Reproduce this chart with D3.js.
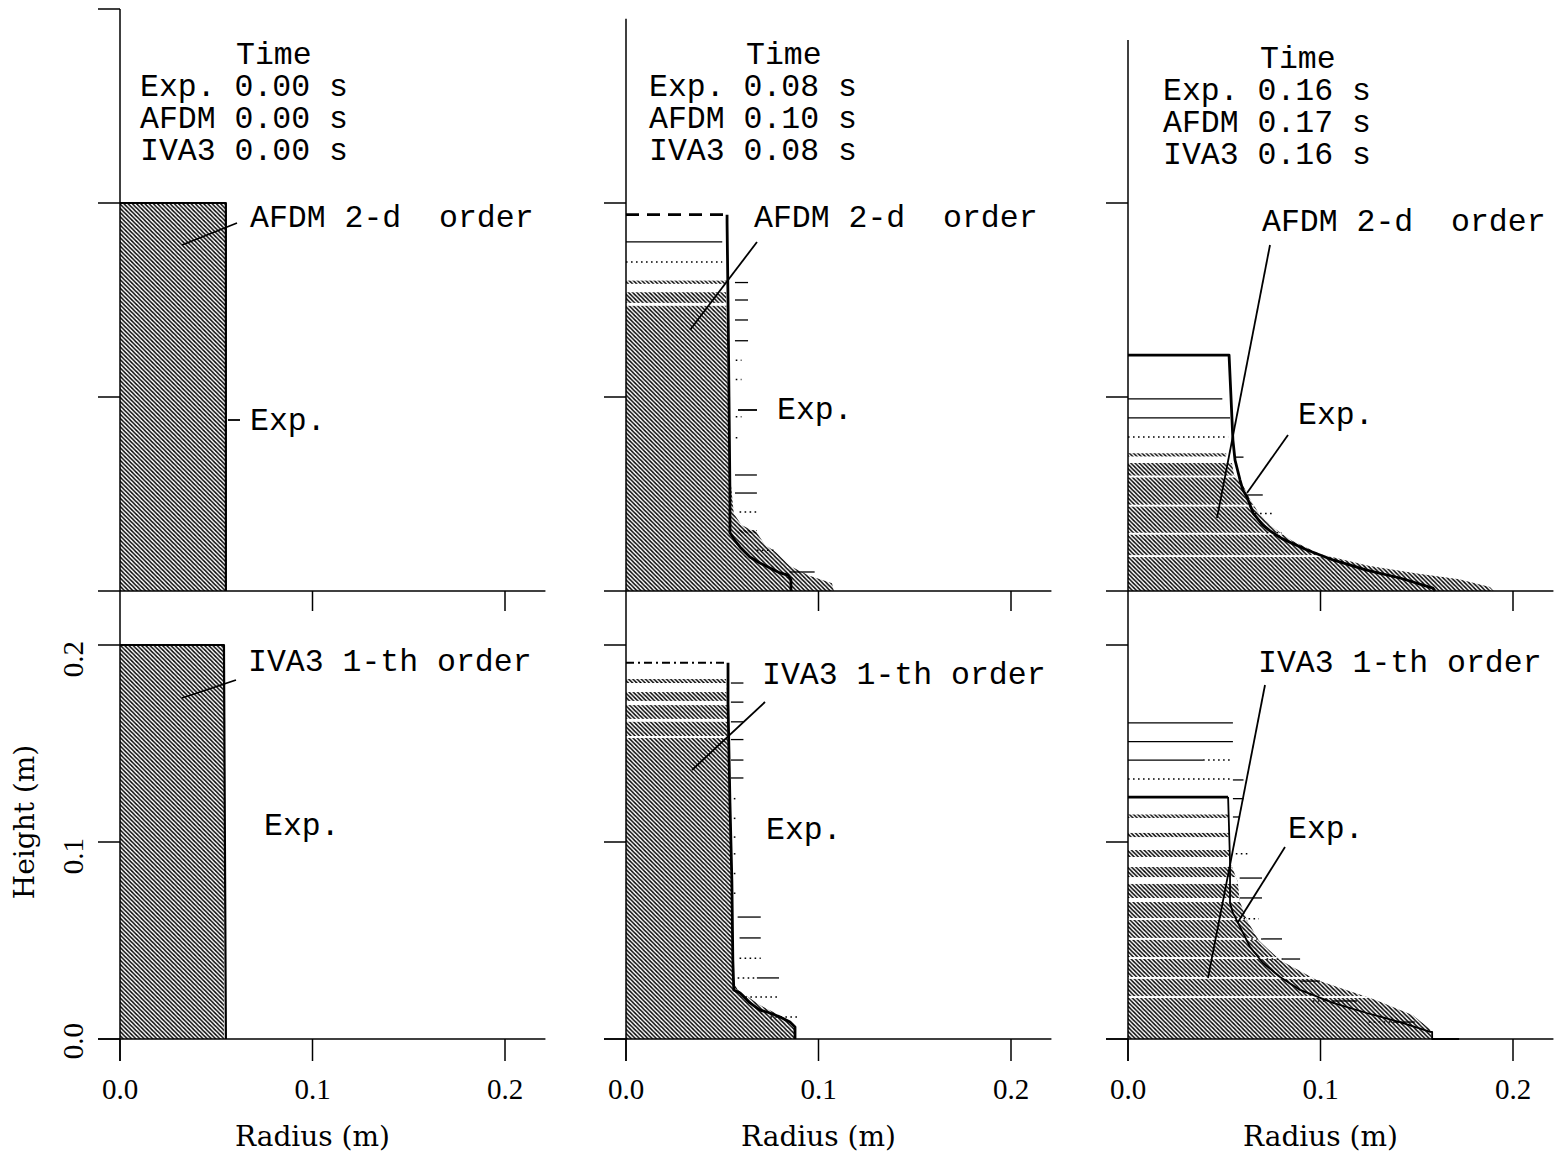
<!DOCTYPE html>
<html><head><meta charset="utf-8">
<script src="https://cdn.jsdelivr.net/npm/d3@7"></script>
<style>body{margin:0;background:#fff}</style></head>
<body>
<svg id="chart" width="1554" height="1157"></svg>
<script>
// ---------------- DATA ----------------
const radiusTicks = [0.0, 0.1, 0.2];
const heightTicksTop = [0.1, 0.2, 0.3];
const heightTicksBottom = [0.0, 0.1, 0.2];
const tickLabels = ["0.0", "0.1", "0.2"];
const codes = ["Exp.", "AFDM", "IVA3"];
const expTimes = ["0.00", "0.08", "0.16"];
const afdmTimes = ["0.00", "0.10", "0.17"];
const iva3Times = ["0.00", "0.08", "0.16"];

// Experimental profiles [radius, height] (m)
const expTop0 = [[0,0.2],[0.055,0.2],[0.055,0]];
const expTop1 = [[0.0525,0.194],[0.0525,0.19],[0.053,0.15],[0.0535,0.10],[0.054,0.05],[0.054,0.030],[0.0566,0.026],[0.0592,0.0227],[0.0644,0.0175],[0.0696,0.0144],[0.0748,0.0119],[0.080,0.0093],[0.0842,0.0082],[0.0857,0.0057],[0.0857,0]];
const expTop2 = [[0,0.1216],[0.0525,0.1216],[0.0535,0.10],[0.0545,0.0778],[0.0556,0.0675],[0.0582,0.0572],[0.0597,0.052],[0.0618,0.0485],[0.065,0.0402],[0.070,0.034],[0.0738,0.031],[0.080,0.027],[0.093,0.0211],[0.1065,0.016],[0.124,0.0108],[0.1413,0.0067],[0.1584,0.0015],[0.1595,0]];
const expBot0 = [[0,0.2],[0.054,0.2],[0.055,0]];
const expBot1 = [[0.053,0.191],[0.053,0.17],[0.054,0.12],[0.055,0.08],[0.0555,0.04],[0.056,0.0249],[0.0592,0.0234],[0.0644,0.0183],[0.0696,0.0147],[0.0748,0.0132],[0.080,0.0112],[0.0852,0.0086],[0.0878,0.0061],[0.0878,0]];
const expBot2 = [[0.052,0.1228],[0.053,0.09],[0.053,0.069],[0.0545,0.064],[0.0582,0.0569],[0.0634,0.0467],[0.0701,0.0386],[0.079,0.0315],[0.0894,0.0249],[0.1065,0.0183],[0.124,0.0132],[0.1413,0.0086],[0.157,0.0036],[0.158,0.0036],[0.158,0],[0.172,0]];

// Simulated fluid region: outer edge of fully filled cells [radius, height]
const afdmEdge0 = [[0.055,0.2],[0.055,0]];
const afdmEdge1 = [[0.052,0.154],[0.053,0.10],[0.054,0.06],[0.056,0.04],[0.060,0.034],[0.068,0.030],[0.072,0.024],[0.078,0.020],[0.085,0.013],[0.095,0.008],[0.107,0.004],[0.108,0]];
const afdmEdge2 = [[0.054,0.066],[0.055,0.060],[0.060,0.054],[0.063,0.048],[0.068,0.040],[0.075,0.033],[0.085,0.026],[0.100,0.019],[0.125,0.013],[0.150,0.009],[0.172,0.006],[0.188,0.002],[0.190,0]];
const ivaEdge0 = [[0.054,0.2],[0.054,0]];
const ivaEdge1 = [[0.052,0.1827],[0.053,0.15],[0.0545,0.08],[0.0555,0.03],[0.058,0.025],[0.064,0.021],[0.070,0.017],[0.078,0.013],[0.085,0.009],[0.088,0.005],[0.088,0]];
const ivaEdge2 = [[0.052,0.114],[0.053,0.09],[0.057,0.08],[0.058,0.07],[0.062,0.06],[0.068,0.05],[0.079,0.04],[0.098,0.03],[0.128,0.02],[0.148,0.012],[0.157,0.005],[0.158,0]];

// Partially filled cell boundaries (empty bands) [zTop, zBottom]
const afdmGaps0 = [];
const afdmGaps1 = [[0.1485,0.1470]];
const afdmGaps2 = [[0.0595,0.0585],[0.0445,0.0435],[0.030,0.029],[0.0185,0.0175]];
const ivaGaps0 = [];
const ivaGaps1 = [[0.1807,0.1761],[0.1716,0.1695],[0.1625,0.1610],[0.1538,0.1528]];
const ivaGaps2 = [[0.1122,0.1046],[0.1025,0.0959],[0.0924,0.0873],[0.0822,0.0787],[0.0716,0.0695],[0.0614,0.0604],[0.0513,0.0503],[0.0416,0.0406],[0.0315,0.0305],[0.0218,0.0208]];

// Cell-row marks: [height, r0, r1, style]
const afdmMarks0 = [];
const afdmMarks1 = [
  [0.194,0,0.051,"dash"],[0.180,0,0.050,"solid"],[0.1696,0,0.050,"dot"],[0.160,0,0.052,"hatch"],
  [0.159,0.0566,0.0634,"solid"],[0.150,0.0566,0.0634,"solid"],[0.1397,0.0566,0.0634,"solid"],[0.129,0.0566,0.0634,"solid"],
  [0.119,0.057,0.060,"dot"],[0.109,0.057,0.060,"dot"],[0.0898,0.057,0.060,"dot"],[0.079,0.057,0.059,"dot"],
  [0.0598,0.0566,0.068,"solid"],[0.0505,0.0566,0.068,"solid"],[0.0407,0.059,0.068,"dot"],[0.0314,0.058,0.068,"hatch"],
  [0.021,0.068,0.078,"dot"],[0.0098,0.085,0.098,"solid"]
];
const afdmMarks2 = [
  [0.099,0,0.049,"solid"],[0.0892,0,0.053,"solid"],[0.0794,0,0.052,"dot"],[0.071,0,0.051,"hatch"],
  [0.069,0.056,0.060,"solid"],[0.0495,0.062,0.070,"solid"],[0.040,0.066,0.075,"dot"],[0.030,0.072,0.080,"dot"]
];
const ivaMarks0 = [];
const ivaMarks1 = [
  [0.191,0,0.053,"dashdot"],
  [0.1807,0.0545,0.061,"solid"],[0.171,0.0545,0.061,"solid"],[0.161,0.0545,0.061,"solid"],[0.152,0.0545,0.061,"solid"],[0.1416,0.0545,0.061,"solid"],[0.1325,0.0545,0.061,"solid"],
  [0.122,0.056,0.058,"dot"],[0.112,0.056,0.058,"dot"],[0.1025,0.056,0.058,"dot"],[0.094,0.056,0.058,"dot"],[0.084,0.056,0.058,"dot"],[0.074,0.056,0.058,"dot"],
  [0.0619,0.058,0.070,"solid"],[0.0513,0.059,0.070,"solid"],[0.041,0.059,0.070,"dot"],
  [0.031,0.058,0.068,"dot"],[0.031,0.068,0.0795,"solid"],[0.0213,0.062,0.0795,"dot"],[0.0112,0.075,0.090,"dot"]
];
const ivaMarks2 = [
  [0.1228,0,0.052,"thick"],
  [0.1605,0,0.0545,"solid"],[0.151,0,0.0545,"solid"],[0.1416,0,0.039,"solid"],[0.1416,0.039,0.053,"dot"],
  [0.132,0,0.053,"dot"],[0.1315,0.0545,0.060,"solid"],[0.122,0.0545,0.060,"solid"],[0.1127,0.0545,0.058,"solid"],
  [0.094,0.056,0.062,"dot"],[0.0817,0.058,0.0696,"solid"],[0.0716,0.058,0.0696,"solid"],[0.061,0.060,0.068,"dot"],
  [0.0508,0.064,0.070,"dot"],[0.0508,0.070,0.080,"solid"],[0.0406,0.072,0.0805,"dot"],[0.0406,0.0805,0.0894,"solid"],
  [0.0294,0.082,0.0894,"dot"],[0.0294,0.0894,0.0997,"solid"],[0.0193,0.096,0.1065,"dot"],[0.0193,0.1065,0.119,"solid"],
  [0.0086,0.125,0.1377,"dot"],[0.0086,0.1377,0.149,"solid"]
];

// ---------------- LAYOUT ----------------
const svg = d3.select("#chart");
const colX0 = [120, 626, 1128];
const pxPerM = 1925;
const rMax = 0.221;
const axisTopZ = [0.3, 0.295, 0.284];
const yTop = d3.scaleLinear().domain([0, 0.3]).range([591, 9]);
const yBot = d3.scaleLinear().domain([0, 0.2]).range([1039, 645]);
const serif = "'Liberation Serif', serif";
const serif2 = "'DejaVu Serif', serif";
const mono = "'Liberation Mono', 'Courier New', monospace";

const defs = svg.append("defs");
const pat = defs.append("pattern").attr("id","hatch").attr("patternUnits","userSpaceOnUse")
  .attr("width",4.2).attr("height",4.2);
pat.append("path").attr("d","M-1,-1 L5.2,5.2 M-1,3.2 L1,5.2 M3.2,-1 L5.2,1")
  .attr("stroke","#000").attr("stroke-width",1.4);

const panels = [
  {col:0,row:0,exp:expTop0,edge:afdmEdge0,gaps:afdmGaps0,marks:afdmMarks0,ew:2.2},
  {col:1,row:0,exp:expTop1,edge:afdmEdge1,gaps:afdmGaps1,marks:afdmMarks1,ew:2.8},
  {col:2,row:0,exp:expTop2,edge:afdmEdge2,gaps:afdmGaps2,marks:afdmMarks2,ew:2.8},
  {col:0,row:1,exp:expBot0,edge:ivaEdge0,gaps:ivaGaps0,marks:ivaMarks0,ew:2.2},
  {col:1,row:1,exp:expBot1,edge:ivaEdge1,gaps:ivaGaps1,marks:ivaMarks1,ew:2.8},
  {col:2,row:1,exp:expBot2,edge:ivaEdge2,gaps:ivaGaps2,marks:ivaMarks2,ew:1.8}
];

panels.forEach((p, i) => {
  const x = d3.scaleLinear().domain([0, rMax]).range([colX0[p.col], colX0[p.col] + rMax * pxPerM]);
  const y = p.row === 0 ? yTop : yBot;
  const g = svg.append("g");
  const line = d3.line().x(d => x(d[0])).y(d => y(d[1]));
  const poly = [[0, p.edge[0][1]], ...p.edge, [0, 0]];
  defs.append("clipPath").attr("id", "clip" + i).append("path").attr("d", line(poly) + "Z");
  g.append("path").attr("d", line(poly) + "Z").attr("fill", "url(#hatch)");
  g.append("g").attr("clip-path", `url(#clip${i})`).selectAll("rect").data(p.gaps).join("rect")
    .attr("x", x(0)).attr("width", x(rMax) - x(0))
    .attr("y", d => y(d[0])).attr("height", d => Math.max(1.6, y(d[1]) - y(d[0])))
    .attr("fill", "#fff");
  p.marks.forEach(m => {
    const [z, r0, r1, st] = m;
    if (st === "hatch") {
      g.append("rect").attr("x", x(r0)).attr("width", x(r1) - x(r0))
        .attr("y", y(z)).attr("height", 3.2).attr("fill", "url(#hatch)");
      return;
    }
    const l = g.append("line").attr("x1", x(r0)).attr("x2", x(r1)).attr("y1", y(z)).attr("y2", y(z))
      .attr("stroke", "#000").attr("fill", "none");
    if (st === "solid") l.attr("stroke-width", 1.3);
    if (st === "dot") l.attr("stroke-width", 1.5).attr("stroke-dasharray", "1.6,3.4");
    if (st === "dash") l.attr("stroke-width", 2.6).attr("stroke-dasharray", "13,8");
    if (st === "dashdot") l.attr("stroke-width", 1.8).attr("stroke-dasharray", "8,4,2,4");
    if (st === "thick") l.attr("stroke-width", 2.6);
  });
  g.append("path").attr("d", line(p.exp)).attr("fill", "none").attr("stroke", "#000")
    .attr("stroke-width", p.ew).attr("stroke-linejoin", "round");
});

// axes
[0,1,2].forEach(c => {
  const x = d3.scaleLinear().domain([0, rMax]).range([colX0[c], colX0[c] + rMax * pxPerM]);
  const ax = svg.append("g").attr("stroke", "#000").attr("stroke-width", 1.5);
  ax.append("line").attr("x1", x(0)).attr("x2", x(0)).attr("y1", yTop(axisTopZ[c])).attr("y2", yBot(0) + 22);
  ax.append("line").attr("x1", x(0) - 22).attr("x2", x(rMax)).attr("y1", yTop(0)).attr("y2", yTop(0));
  ax.append("line").attr("x1", x(0) - 22).attr("x2", x(rMax)).attr("y1", yBot(0)).attr("y2", yBot(0));
  heightTicksTop.filter(t => t <= axisTopZ[c] + 1e-9).forEach(t =>
    ax.append("line").attr("x1", x(0) - 22).attr("x2", x(0)).attr("y1", yTop(t)).attr("y2", yTop(t)));
  heightTicksBottom.forEach(t =>
    ax.append("line").attr("x1", x(0) - 22).attr("x2", x(0)).attr("y1", yBot(t)).attr("y2", yBot(t)));
  radiusTicks.filter(t => t > 0).forEach(t =>
    ax.append("line").attr("x1", x(t)).attr("x2", x(t)).attr("y1", yTop(0)).attr("y2", yTop(0) + 20));
  radiusTicks.forEach(t =>
    ax.append("line").attr("x1", x(t)).attr("x2", x(t)).attr("y1", yBot(0)).attr("y2", yBot(0) + 22));
  svg.append("g").selectAll("text").data(radiusTicks).join("text")
    .attr("x", d => x(d)).attr("y", 1099).attr("text-anchor", "middle")
    .style("font-family", serif).style("font-size", "29px").text((d, k) => tickLabels[k]);
  svg.append("text").attr("x", x(0.1)).attr("y", 1146).attr("text-anchor", "middle")
    .style("font-family", serif2).style("font-size", "28px").text("Radius (m)");
});

heightTicksBottom.forEach((t, k) => {
  svg.append("text").attr("transform", `translate(83,${yBot(t) + (t > 0 ? 14 : 2)}) rotate(-90)`)
    .attr("text-anchor", "middle").style("font-family", serif).style("font-size", "29px").text(tickLabels[k]);
});
svg.append("text").attr("transform", "translate(34,822) rotate(-90)").attr("text-anchor", "middle")
  .style("font-family", serif2).style("font-size", "28px").text("Height (m)");

// time blocks
const timeX = [236, 746, 1260];
const rowX = [140, 649, 1163];
const timeY = [64, 64, 68];
const times = [expTimes, afdmTimes, iva3Times];
[0,1,2].forEach(c => {
  const tg = svg.append("g").style("font-family", mono).style("font-size", "31.5px");
  tg.append("text").attr("x", timeX[c]).attr("y", timeY[c]).text("Time");
  codes.forEach((code, k) => {
    tg.append("text").attr("x", rowX[c]).attr("y", timeY[c] + 32 * (k + 1))
      .text(`${code} ${times[k][c]} s`);
  });
});

const labels = [
  ["AFDM 2-d  order", 250, 227], ["AFDM 2-d  order", 754, 227], ["AFDM 2-d  order", 1262, 231],
  ["IVA3 1-th order", 248, 671], ["IVA3 1-th order", 762, 684], ["IVA3 1-th order", 1258, 672],
  ["Exp.", 250, 430], ["Exp.", 777, 419], ["Exp.", 1298, 424],
  ["Exp.", 264, 835], ["Exp.", 766, 839], ["Exp.", 1288, 838]
];
svg.append("g").selectAll("text").data(labels).join("text")
  .attr("x", d => d[1]).attr("y", d => d[2]).attr("xml:space", "preserve")
  .style("white-space", "pre").style("font-family", mono).style("font-size", "31.5px").text(d => d[0]);

const pointers = [
  [237,223,182,245],[228,420,240,420],
  [757,242,690,330],[738,410,757,410],
  [1270,245,1217,518],[1288,435,1247,493],
  [236,680,182,698],
  [765,702,692,770],
  [1265,685,1208,978],[1285,847,1238,922]
];
svg.append("g").selectAll("line").data(pointers).join("line")
  .attr("x1", d => d[0]).attr("y1", d => d[1]).attr("x2", d => d[2]).attr("y2", d => d[3])
  .attr("stroke", "#000").attr("stroke-width", 1.8);
</script>
</body></html>
